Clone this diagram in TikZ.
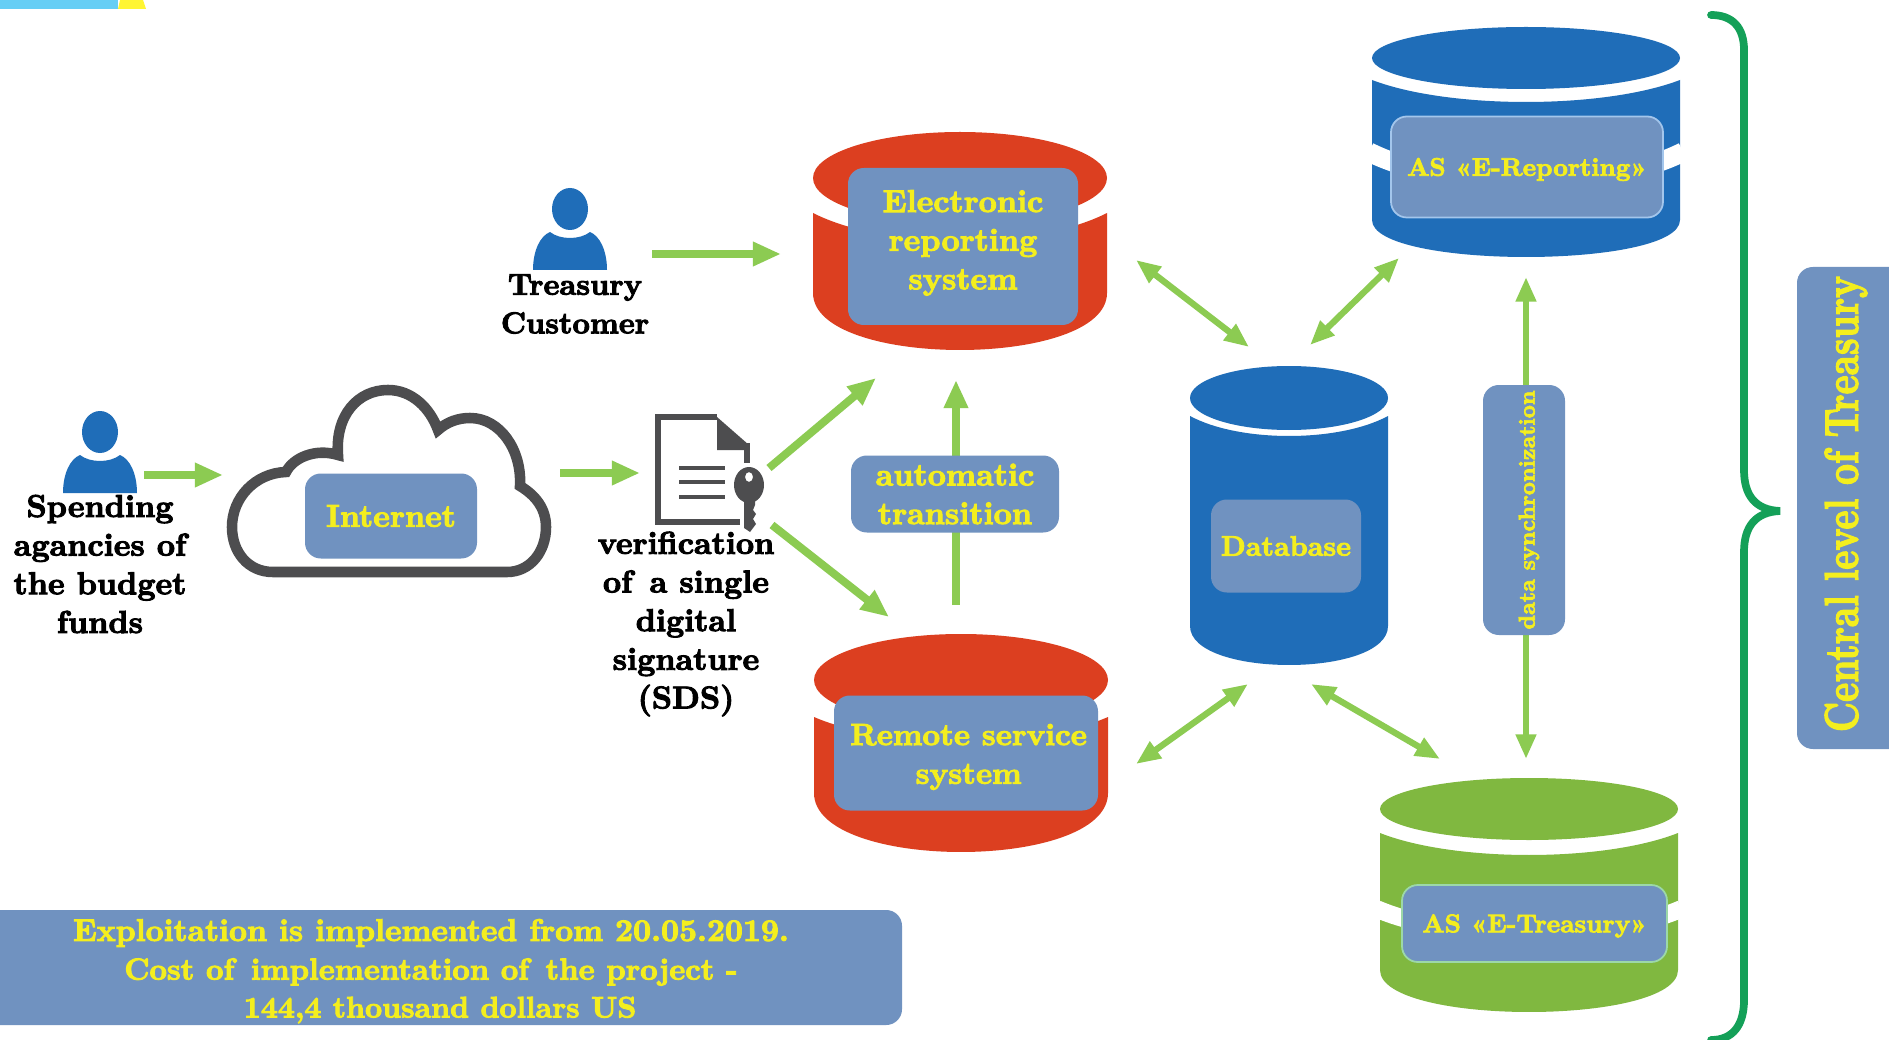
\documentclass[tikz,border=0pt]{standalone}
\usepackage{fontspec}
\usetikzlibrary{arrows.meta}
\definecolor{boxblue}{HTML}{7092C0}
\definecolor{dbblue}{HTML}{1F6DB8}
\definecolor{dbred}{HTML}{DC3F20}
\definecolor{dbgreen}{HTML}{80B840}
\definecolor{arrowgreen}{HTML}{8CCB52}
\definecolor{bracegreen}{HTML}{14A058}
\definecolor{txtyellow}{HTML}{F4EE1E}
\definecolor{edgeblue}{HTML}{A3C6EC}
\definecolor{edgegreen}{HTML}{9CD8A8}
\definecolor{inkgrey}{HTML}{4D4D4F}
\newfontfamily\fatserif{lmroman10-bold}[Extension=.otf,FakeBold=3]
\newcommand{\fatface}[1]{\fatserif\fontsize{#1}{22pt}\selectfont}
\newcommand{\liftbox}[2]{\raisebox{#1}[0pt][0pt]{\begin{tabular}{@{}c@{}}#2\end{tabular}}}
\tikzset{
  x=0.02cm,y=-0.02cm,
  oneway/.style={draw=arrowgreen,line width=4.5pt,-{Triangle[length=16pt,width=13pt,fill=arrowgreen]}},
  twoway/.style={draw=arrowgreen,line width=3.6pt,{Triangle[length=14pt,width=11pt,fill=arrowgreen]}-{Triangle[length=14pt,width=11pt,fill=arrowgreen]}},
  bluebox/.style={fill=boxblue,rounded corners=9pt,inner sep=0pt,align=center,text=txtyellow,font=\fatface{18pt}},
  edgebox/.style={bluebox,draw=edgeblue,line width=1pt},
  blacktext/.style={align=center,text=black,inner sep=0pt,font=\fatface{18pt}},
  glyph/.style={draw=inkgrey,line width=3pt,line join=miter},
}
% color, cx, rx, cy, ry, side top, dip, side bottom, bottom
\newcommand{\dbcylinder}[9]{%
  \fill[#1] (#2,#4) ellipse [x radius=#3,y radius=#5];
  \fill[#1] ({#2-#3},#6) .. controls ({#2-0.5*#3},{#6+1.333*(#7-#6)}) and ({#2+0.5*#3},{#6+1.333*(#7-#6)}) .. ({#2+#3},#6)
    -- ({#2+#3},#8) .. controls ({#2+#3},{#8+1.333*(#9-#8)}) and ({#2-#3},{#8+1.333*(#9-#8)}) .. ({#2-#3},#8) -- cycle;}
% cx, rx, side y, dip, thickness
\newcommand{\dbstripe}[5]{%
  \draw[white,line width=#5] ({#1-#2-3},#3) .. controls ({#1-0.5*#2},{#3+1.333*(#4-#3)}) and ({#1+0.5*#2},{#3+1.333*(#4-#3)}) .. ({#1+#2+3},#3);}
\newcommand{\personicon}[2]{%
  \fill[dbblue] (#1,#2) ellipse [x radius=18,y radius=21];
  \fill[dbblue] ({#1-37},{#2+61}) .. controls ({#1-37},{#2+42}) and ({#1-30},{#2+27}) .. ({#1-20},{#2+23})
    .. controls ({#1-10},{#2+31}) and ({#1+10},{#2+31}) .. ({#1+20},{#2+23})
    .. controls ({#1+30},{#2+27}) and ({#1+37},{#2+42}) .. ({#1+37},{#2+61}) -- cycle;}
\begin{document}
\begin{tikzpicture}
\useasboundingbox (0,0) rectangle (1889,1040);
\fill[white] (0,0) rectangle (1889,1040);
% top marks
\fill[cyan!60!white] (0,0) rectangle (118,9);
\fill[yellow!80!white] (120,0) -- (143,0) -- (146,9) -- (118,9) -- cycle;
% coordinates for connector ends
\coordinate (p1out) at (144,475); \coordinate (cloudin) at (223,475);
\coordinate (cloudout) at (560,473); \coordinate (docin) at (640,473);
\coordinate (p2out) at (652,254); \coordinate (erin) at (781,254);
\coordinate (docup) at (769,468); \coordinate (erlow) at (876,378);
\coordinate (docdown) at (772,525); \coordinate (rsin) at (889,617);
\coordinate (rsup) at (956,605); \coordinate (erbottom) at (956,380);
\coordinate (er1) at (1136,260); \coordinate (db1) at (1249,347);
\coordinate (db2) at (1310,345); \coordinate (as1) at (1399,258);
\coordinate (rs1) at (1136,764); \coordinate (db3) at (1248,684);
\coordinate (db4) at (1311,684); \coordinate (tr1) at (1440,759);
\coordinate (as2) at (1526,277); \coordinate (tr2) at (1526,759);
\draw[oneway] (p1out) -- (cloudin);
\draw[oneway] (cloudout) -- (docin);
\draw[oneway] (p2out) -- (erin);
\draw[oneway] (docup) -- (erlow);
\draw[oneway] (docdown) -- (rsin);
\draw[oneway] (rsup) -- (erbottom);
\draw[twoway] (er1) -- (db1);
\draw[twoway] (db2) -- (as1);
\draw[twoway] (rs1) -- (db3);
\draw[twoway] (db4) -- (tr1);
\draw[twoway] (as2) -- (tr2);
% people
\personicon{100}{432}
\personicon{570}{209}
\node[blacktext] (spend) at (100,564) {Spending\\agancies of\\the budget\\funds};
\node[blacktext,font=\fatface{17.2pt}] (cust) at (575,304) {Treasury\\Customer};
% cloud
\draw[draw=inkgrey,line width=6pt,line join=miter]
  (273,572) .. controls (248,572) and (232,552) .. (232,527)
  .. controls (232,498) and (255,473) .. (286,472)
  .. controls (293,458) and (315,448) .. (338,455)
  .. controls (335,415) and (358,390) .. (388,390)
  .. controls (412,390) and (430,408) .. (438,430)
  .. controls (447,422) and (458,418) .. (470,418)
  .. controls (500,418) and (522,450) .. (520,486)
  .. controls (535,495) and (546,508) .. (546,527)
  .. controls (546,552) and (530,572) .. (507,572) -- cycle;
\node[bluebox,minimum width=172*0.02cm,minimum height=85*0.02cm] (internet) at (391,516) {Internet};
% document with key
\draw[glyph] (717,417) -- (658,417) -- (658,522) -- (740,522);
\draw[glyph] (747,443) -- (747,463);
\fill[inkgrey] (717,417) -- (749,445) -- (749,450) -- (717,450) -- cycle;
\draw[inkgrey,line width=2.4pt] (679,468) -- (725,468) (679,482) -- (725,482) (679,497) -- (725,497);
\fill[inkgrey] (744,495) -- (755,495) -- (755,505) -- (753,510) -- (756,514) -- (753,519) -- (756,524) -- (750,532) -- (744,528) -- cycle;
\fill[inkgrey,even odd rule] (749,485) ellipse [x radius=15,y radius=18] (749,477) ellipse [x radius=4,y radius=5];
\node[blacktext] (sds) at (686,624) {verification\\of\, a single\\digital\\signature\\(SDS)};
% cylinders
\dbcylinder{dbred}{960}{147}{178}{46}{213}{241}{293}{350}
\dbcylinder{dbred}{961}{147}{680}{46}{717}{741}{793}{852}
\dbcylinder{dbblue}{1526}{154}{58}{31}{80}{102}{220}{257}
\dbstripe{1526}{154}{152}{182}{11pt}
\dbcylinder{dbblue}{1289}{99}{398}{32}{416}{436}{626}{665}
\dbcylinder{dbgreen}{1529}{149}{809}{31}{833}{855}{970}{1012}
\dbstripe{1529}{149}{909}{934}{10pt}
% boxes on cylinders
\node[bluebox,minimum width=230*0.02cm,minimum height=157*0.02cm] (ers) at (963,246.5) {\liftbox{-2.3pt}{Electronic\\reporting\\system}};
\node[bluebox,minimum width=264*0.02cm,minimum height=115*0.02cm,font=\fatface{17.5pt}] (rss) at (966,753) {\hspace*{3pt}\liftbox{-6.4pt}{Remote service\\system}};
\node[edgebox,minimum width=272*0.02cm,minimum height=101*0.02cm,font=\fatface{14.5pt}] (asrep) at (1527,167) {\raisebox{-5pt}[0pt][0pt]{AS «E-Reporting»}};
\node[bluebox,minimum width=150*0.02cm,minimum height=93*0.02cm,font=\fatface{16pt}] (dbase) at (1286,546) {Database};
\node[edgebox,draw=edgegreen,minimum width=265*0.02cm,minimum height=77*0.02cm,font=\fatface{14.6pt}] (astre) at (1534.5,923.5) {\raisebox{-5pt}[0pt][0pt]{AS «E-Treasury»}};
\node[bluebox,minimum width=208*0.02cm,minimum height=77*0.02cm] (auto) at (955,494) {automatic\\transition};
\node[bluebox,minimum width=82*0.02cm,minimum height=250*0.02cm] (sync) at (1524,510) {};
\node[text=txtyellow,inner sep=0pt,rotate=90,font=\fatface{13pt}] (synctext) at (1529,510) {data synchronization};
% cost box
\fill[boxblue,rounded corners=9pt] (-20,910) rectangle (902,1025);
\node[text=txtyellow,inner sep=0pt,align=center,font=\fatface{17.8pt}] (cost1) at (431,933) {Exploitation is implemented from 20.05.2019.};
\node[text=txtyellow,inner sep=0pt,align=center,font=\fatface{17.3pt}] (cost2) at (431,972) {Cost of\, implementation of\, the project -};
\node[text=txtyellow,inner sep=0pt,align=center,font=\fatface{16.9pt}] (cost3) at (440,1010) {144,4 thousand dollars US};
% brace
\draw[bracegreen,line width=4.4pt,line cap=round] (1711,15) .. controls (1733,15) and (1744,28) .. (1744,50)
  -- (1744,470) .. controls (1744,495) and (1755,510) .. (1780,511)
  .. controls (1755,512) and (1744,527) .. (1744,552)
  -- (1744,1000) .. controls (1744,1025) and (1733,1040) .. (1711,1040);
% central level
\fill[boxblue,rounded corners=9pt] (1797,267) rectangle (1920,749);
\node[text=txtyellow,inner sep=0pt,rotate=90,font=\fatface{20.7pt}] (central) at (1846,504) {\scalebox{1}[1.3]{Central level of Treasury}};
\end{tikzpicture}
\end{document}
